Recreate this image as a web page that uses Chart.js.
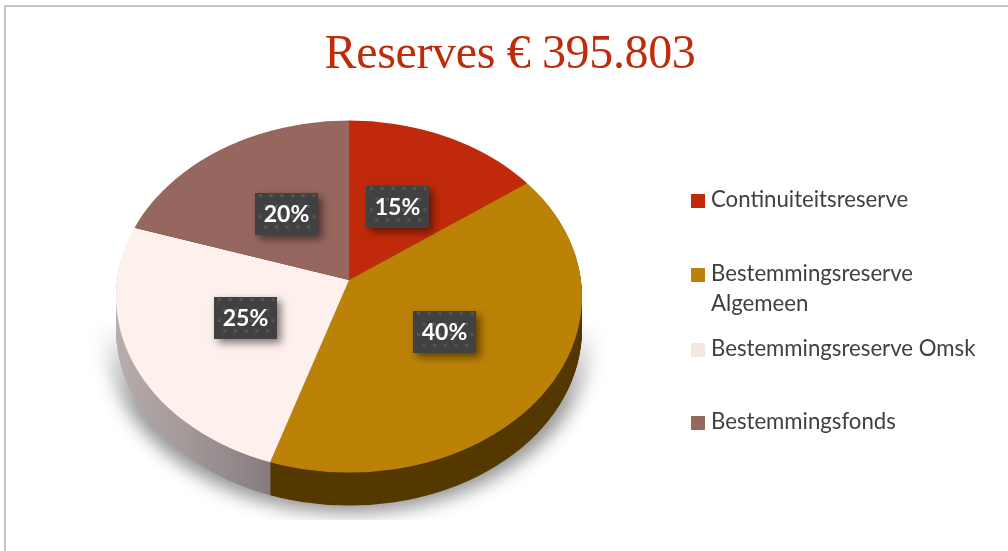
<!DOCTYPE html>
<html><head><meta charset="utf-8">
<style>html,body{margin:0;padding:0;background:#fff;overflow:hidden}canvas{display:block}</style>
<script src="https://cdn.jsdelivr.net/npm/chart.js@4"></script>
</head><body>
<canvas id="c" width="1008" height="551"></canvas>
<script>
const titleText = 'Reserves € 395.803';
const categories = ['Continuiteitsreserve','Bestemmingsreserve Algemeen','Bestemmingsreserve Omsk','Bestemmingsfonds'];
const values = [15,40,25,20];
const sliceColors = ['#c02a0a','#bc8208','#fdf0ed','#96675f'];
const legendColors = ['#c02a0a','#bc8208','#f6e6e3','#96675f'];
const legendFirstBaselines = [207,281,356,429];
const labelNudgeX = [-2,5,-4,3];
const labelNudgeY = [2,3,0,2];

const TILT = 0.75, DEPTH = 33, RX = 233, RY = 176, FACE_DY = 16.5;
const LABEL_R = 112, BOX_W = 63, BOX_H = 42;
const LEGEND_FONT = '22.2px Lato', LEGEND_LH = 30, LEGEND_WRAP = 280;

function ellipse(ctx, a, dy){
  ctx.beginPath();
  ctx.ellipse(a.x, a.y + FACE_DY + dy, RX, RY, 0, 0, Math.PI*2);
}
function tilted(ctx, a, dy){
  ctx.translate(0, a.y + dy);
  ctx.scale(1, TILT);
  ctx.translate(0, -a.y);
}
const pie3d = {
  id:'pie3d',
  afterLayout(chart){
    // the title is centred over the whole sheet, not over the pie
    chart.titleBlock.left = 12;
    chart.titleBlock.right = chart.width;
  },
  beforeDraw(chart){
    const ctx = chart.ctx;
    ctx.save();
    ctx.fillStyle = '#fff'; ctx.fillRect(0,0,chart.width,chart.height);
    ctx.fillStyle = '#c6c6c6';
    ctx.fillRect(4,5,chart.width-4,2);
    ctx.fillRect(4,5,2,chart.height-5);
    ctx.restore();
    ctx.letterSpacing = '-0.35px';
  },
  beforeDatasetsDraw(chart){
    const ctx = chart.ctx, arcs = chart.getDatasetMeta(0).data, a = arcs[0];
    ctx.letterSpacing = '0px';
    // soft ground shadow
    ctx.save();
    ctx.beginPath(); ctx.rect(0,0,chart.width,a.y+240); ctx.clip();
    ctx.filter = 'blur(9px)';
    const g = ctx.createLinearGradient(0,a.y+45,0,a.y+130);
    g.addColorStop(0,'rgba(0,0,0,0)');
    g.addColorStop(1,'rgba(0,0,0,0.42)');
    ctx.fillStyle = g;
    ctx.beginPath();
    ctx.ellipse(a.x, a.y+52, RX+11, RY+5, 0, 0, Math.PI*2);
    ctx.fill();
    ctx.restore();
    // extruded side
    const pinkSide = ctx.createLinearGradient(a.x-RX,0,a.x-79,0);
    pinkSide.addColorStop(0,'#b8adad');
    pinkSide.addColorStop(0.45,'#a49999');
    pinkSide.addColorStop(1,'#867b7f');
    const sides = ['#5a1305','#553900',pinkSide,'#4a2e2a'];
    for(let d=DEPTH;d>=1;d--){
      ctx.save();
      ellipse(ctx,a,d); ctx.clip();
      tilted(ctx,a,d);
      arcs.forEach((arc,i)=>{
        const saved = arc.options;
        arc.options = Object.assign({},saved,{backgroundColor:sides[i]});
        arc.draw(ctx);
        arc.options = saved;
      });
      ctx.restore();
    }
    // top face: the library draws it inside this tilt
    ctx.save();
    ellipse(ctx,a,0); ctx.clip();
    tilted(ctx,a,0);
  },
  afterDatasetsDraw(chart){
    const ctx = chart.ctx;
    ctx.restore();
    const arcs = chart.getDatasetMeta(0).data;
    const total = values.reduce((s,v)=>s+v,0);
    arcs.forEach((arc,i)=>{
      const mid = (arc.startAngle+arc.endAngle)/2;
      const cx = arc.x + Math.cos(mid)*LABEL_R + labelNudgeX[i];
      const cy = arc.y + Math.sin(mid)*LABEL_R*TILT + labelNudgeY[i];
      const x = Math.round(cx-BOX_W/2), y = Math.round(cy-BOX_H/2);
      ctx.save();
      ctx.shadowColor='rgba(0,0,0,0.5)'; ctx.shadowBlur=8; ctx.shadowOffsetX=4; ctx.shadowOffsetY=4;
      ctx.fillStyle='#414141'; ctx.fillRect(x,y,BOX_W,BOX_H);
      ctx.restore();
      ctx.save();
      ctx.fillStyle='#565658';
      for(let r=0;r<4;r++) for(let c=0;c<6;c++){
        const px = x+4+c*10.7+(r%2?5.3:0), py = y+1+r*10.6;
        if(px<x+BOX_W-2) ctx.fillRect(px,py,3,3);
      }
      ctx.fillStyle='#fff'; ctx.font='bold 23px Lato';
      ctx.textAlign='center'; ctx.textBaseline='middle';
      ctx.fillText(Math.round(values[i]/total*100)+'%', x+BOX_W/2, y+BOX_H/2+1);
      ctx.restore();
    });
    // legend
    ctx.save();
    ctx.font = LEGEND_FONT; ctx.textBaseline='alphabetic'; ctx.textAlign='left';
    categories.forEach((name,i)=>{
      const base = legendFirstBaselines[i];
      ctx.fillStyle = legendColors[i];
      ctx.fillRect(691, base-13, 14, 14);
      ctx.fillStyle = '#404040';
      const lines=[]; let cur='';
      name.split(' ').forEach(w=>{
        const t = cur?cur+' '+w:w;
        if(ctx.measureText(t).width>LEGEND_WRAP && cur){lines.push(cur);cur=w;} else cur=t;
      });
      lines.push(cur);
      lines.forEach((l,k)=>ctx.fillText(l,711,base+k*LEGEND_LH));
    });
    ctx.restore();
  }
};
new Chart(document.getElementById('c'),{
  type:'pie',
  data:{labels:categories,datasets:[{data:values,backgroundColor:sliceColors,borderWidth:0,radius:300,clip:false}]},
  options:{
    responsive:false,animation:false,
    layout:{padding:{left:12,right:322,top:0,bottom:83.4}},
    plugins:{
      legend:{display:false},tooltip:{enabled:false},
      title:{display:true,text:titleText,color:'#bf2c0b',align:'center',
        font:{family:'"Liberation Serif"',size:48,weight:'normal',lineHeight:1.2},
        padding:{top:27,bottom:8}}
    }
  },
  plugins:[pie3d]
});
</script>
</body></html>
